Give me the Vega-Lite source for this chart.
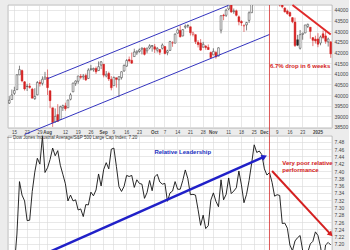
{
"$schema": "https://vega.github.io/schema/vega-lite/v6.json",
"background": "#ececec",
"padding": {"left": 6, "top": 0, "right": 0, "bottom": 0},
"spacing": 8,
"bounds": "flush",
"config": {
  "view": {"stroke": "#9a9a9a", "strokeWidth": 0.6, "fill": "white"},
  "font": "Liberation Sans",
  "axis": {"labelFont": "Liberation Sans", "labelFontSize": 4.5, "labelColor": "#444", "gridColor": "#d8d8d8", "gridWidth": 0.6, "domain": false, "ticks": false, "labelPadding": 2, "title": null, "labelOverlap": false},
  "axisY": {"labelOverlap": false, "labelFontSize": 5, "labelBaseline": "middle"}
},
"datasets": {
"px": [
{"d":"2024-07-11","o":39620,"h":39950,"l":39580,"c":39753,"r":7.118},
{"d":"2024-07-12","o":39790,"h":40260,"l":39780,"c":40001,"r":7.124},
{"d":"2024-07-15","o":40080,"h":40390,"l":40000,"c":40212,"r":7.141},
{"d":"2024-07-16","o":40250,"h":40970,"l":40240,"c":40954,"r":7.227},
{"d":"2024-07-17","o":40950,"h":41380,"l":40940,"c":41198,"r":7.371},
{"d":"2024-07-18","o":41150,"h":41200,"l":40600,"c":40665,"r":7.334},
{"d":"2024-07-19","o":40620,"h":40660,"l":40210,"c":40288,"r":7.318},
{"d":"2024-07-22","o":40400,"h":40530,"l":40190,"c":40415,"r":7.264},
{"d":"2024-07-23","o":40420,"h":40560,"l":40300,"c":40358,"r":7.265},
{"d":"2024-07-24","o":40280,"h":40340,"l":39840,"c":39854,"r":7.344},
{"d":"2024-07-25","o":39830,"h":40320,"l":39770,"c":39935,"r":7.397},
{"d":"2024-07-26","o":40010,"h":40660,"l":39990,"c":40589,"r":7.435},
{"d":"2024-07-29","o":40590,"h":40700,"l":40400,"c":40540,"r":7.419},
{"d":"2024-07-30","o":40550,"h":40880,"l":40450,"c":40743,"r":7.495},
{"d":"2024-07-31","o":40750,"h":41090,"l":40730,"c":40843,"r":7.396},
{"d":"2024-08-01","o":40830,"h":41200,"l":40000,"c":40348,"r":7.409},
{"d":"2024-08-02","o":40200,"h":40210,"l":39380,"c":39737,"r":7.432},
{"d":"2024-08-05","o":39400,"h":39400,"l":38500,"c":38703,"r":7.463},
{"d":"2024-08-06","o":38740,"h":39370,"l":38700,"c":38998,"r":7.442},
{"d":"2024-08-07","o":39080,"h":39570,"l":38740,"c":38763,"r":7.456},
{"d":"2024-08-08","o":38850,"h":39500,"l":38840,"c":39446,"r":7.416},
{"d":"2024-08-09","o":39400,"h":39550,"l":39250,"c":39498,"r":7.391},
{"d":"2024-08-12","o":39490,"h":39640,"l":39260,"c":39357,"r":7.365},
{"d":"2024-08-13","o":39400,"h":39780,"l":39400,"c":39766,"r":7.318},
{"d":"2024-08-14","o":39800,"h":40100,"l":39750,"c":40009,"r":7.334},
{"d":"2024-08-15","o":40150,"h":40580,"l":40140,"c":40563,"r":7.318},
{"d":"2024-08-16","o":40550,"h":40690,"l":40430,"c":40660,"r":7.321},
{"d":"2024-08-19","o":40650,"h":40900,"l":40530,"c":40897,"r":7.293},
{"d":"2024-08-20","o":40880,"h":40990,"l":40740,"c":40835,"r":7.296},
{"d":"2024-08-21","o":40850,"h":40990,"l":40720,"c":40890,"r":7.275},
{"d":"2024-08-22","o":40920,"h":41010,"l":40660,"c":40713,"r":7.308},
{"d":"2024-08-23","o":40780,"h":41260,"l":40770,"c":41175,"r":7.307},
{"d":"2024-08-26","o":41200,"h":41420,"l":41140,"c":41240,"r":7.342},
{"d":"2024-08-27","o":41190,"h":41290,"l":41100,"c":41250,"r":7.332},
{"d":"2024-08-28","o":41250,"h":41340,"l":40990,"c":41091,"r":7.348},
{"d":"2024-08-29","o":41150,"h":41580,"l":41130,"c":41335,"r":7.392},
{"d":"2024-08-30","o":41410,"h":41590,"l":41220,"c":41563,"r":7.359},
{"d":"2024-09-03","o":41450,"h":41450,"l":40830,"c":40937,"r":7.404},
{"d":"2024-09-04","o":40900,"h":41130,"l":40830,"c":40975,"r":7.423},
{"d":"2024-09-05","o":41020,"h":41100,"l":40660,"c":40756,"r":7.406},
{"d":"2024-09-06","o":40740,"h":40890,"l":40220,"c":40345,"r":7.460},
{"d":"2024-09-09","o":40440,"h":40870,"l":40430,"c":40830,"r":7.463},
{"d":"2024-09-10","o":40810,"h":40820,"l":40350,"c":40737,"r":7.412},
{"d":"2024-09-11","o":40720,"h":40890,"l":39900,"c":40861,"r":7.357},
{"d":"2024-09-12","o":40820,"h":41110,"l":40730,"c":41097,"r":7.344},
{"d":"2024-09-13","o":41130,"h":41440,"l":41100,"c":41394,"r":7.358},
{"d":"2024-09-16","o":41360,"h":41690,"l":41330,"c":41622,"r":7.388},
{"d":"2024-09-17","o":41670,"h":41810,"l":41530,"c":41606,"r":7.385},
{"d":"2024-09-18","o":41630,"h":42000,"l":41460,"c":41503,"r":7.388},
{"d":"2024-09-19","o":41810,"h":42180,"l":41800,"c":42025,"r":7.355},
{"d":"2024-09-20","o":41990,"h":42100,"l":41880,"c":42063,"r":7.376},
{"d":"2024-09-23","o":42050,"h":42190,"l":41990,"c":42125,"r":7.366},
{"d":"2024-09-24","o":42160,"h":42240,"l":41910,"c":42208,"r":7.364},
{"d":"2024-09-25","o":42200,"h":42240,"l":41860,"c":41915,"r":7.325},
{"d":"2024-09-26","o":42080,"h":42250,"l":41960,"c":42175,"r":7.341},
{"d":"2024-09-27","o":42210,"h":42390,"l":42150,"c":42313,"r":7.374},
{"d":"2024-09-30","o":42290,"h":42350,"l":42040,"c":42330,"r":7.346},
{"d":"2024-10-01","o":42270,"h":42400,"l":41980,"c":42156,"r":7.384},
{"d":"2024-10-02","o":42110,"h":42260,"l":42000,"c":42196,"r":7.391},
{"d":"2024-10-03","o":42140,"h":42160,"l":41880,"c":42011,"r":7.370},
{"d":"2024-10-04","o":42200,"h":42430,"l":42140,"c":42353,"r":7.364},
{"d":"2024-10-07","o":42280,"h":42310,"l":41910,"c":41954,"r":7.366},
{"d":"2024-10-08","o":42000,"h":42130,"l":41870,"c":42080,"r":7.317},
{"d":"2024-10-09","o":42100,"h":42550,"l":42080,"c":42512,"r":7.340},
{"d":"2024-10-10","o":42450,"h":42530,"l":42270,"c":42454,"r":7.345},
{"d":"2024-10-11","o":42440,"h":42900,"l":42430,"c":42864,"r":7.371},
{"d":"2024-10-14","o":42910,"h":43140,"l":42890,"c":43065,"r":7.350},
{"d":"2024-10-15","o":43040,"h":43280,"l":42710,"c":42740,"r":7.350},
{"d":"2024-10-16","o":42780,"h":43100,"l":42760,"c":43077,"r":7.374},
{"d":"2024-10-17","o":43190,"h":43320,"l":43110,"c":43239,"r":7.403},
{"d":"2024-10-18","o":43250,"h":43330,"l":43150,"c":43276,"r":7.379},
{"d":"2024-10-21","o":43210,"h":43220,"l":42800,"c":42931,"r":7.335},
{"d":"2024-10-22","o":42850,"h":42980,"l":42760,"c":42925,"r":7.336},
{"d":"2024-10-23","o":42840,"h":42850,"l":42400,"c":42514,"r":7.334},
{"d":"2024-10-24","o":42480,"h":42580,"l":42240,"c":42374,"r":7.294},
{"d":"2024-10-25","o":42450,"h":42630,"l":42080,"c":42114,"r":7.251},
{"d":"2024-10-28","o":42250,"h":42500,"l":42240,"c":42387,"r":7.279},
{"d":"2024-10-29","o":42300,"h":42350,"l":42130,"c":42234,"r":7.242},
{"d":"2024-10-30","o":42240,"h":42380,"l":42120,"c":42142,"r":7.250},
{"d":"2024-10-31","o":42000,"h":42050,"l":41750,"c":41763,"r":7.320},
{"d":"2024-11-01","o":41890,"h":42200,"l":41880,"c":42052,"r":7.340},
{"d":"2024-11-04","o":42000,"h":42080,"l":41710,"c":41794,"r":7.317},
{"d":"2024-11-05","o":41830,"h":42240,"l":41820,"c":42222,"r":7.302},
{"d":"2024-11-06","o":43050,"h":43760,"l":42900,"c":43730,"r":7.376},
{"d":"2024-11-07","o":43760,"h":43820,"l":43520,"c":43729,"r":7.321},
{"d":"2024-11-08","o":43750,"h":44060,"l":43670,"c":43989,"r":7.336},
{"d":"2024-11-11","o":44050,"h":44390,"l":43990,"c":44293,"r":7.381},
{"d":"2024-11-12","o":44330,"h":44360,"l":43860,"c":43911,"r":7.338},
{"d":"2024-11-13","o":43920,"h":44070,"l":43820,"c":43958,"r":7.345},
{"d":"2024-11-14","o":43960,"h":44020,"l":43700,"c":43751,"r":7.354},
{"d":"2024-11-15","o":43680,"h":43740,"l":43280,"c":43445,"r":7.400},
{"d":"2024-11-18","o":43460,"h":43520,"l":43250,"c":43390,"r":7.362},
{"d":"2024-11-19","o":43250,"h":43330,"l":42970,"c":43269,"r":7.313},
{"d":"2024-11-20","o":43300,"h":43440,"l":43040,"c":43408,"r":7.336},
{"d":"2024-11-21","o":43510,"h":43940,"l":43390,"c":43870,"r":7.374},
{"d":"2024-11-22","o":43870,"h":44360,"l":43860,"c":44297,"r":7.421},
{"d":"2024-11-25","o":44390,"h":44850,"l":44380,"c":44737,"r":7.472},
{"d":"2024-11-26","o":44710,"h":44870,"l":44610,"c":44860,"r":7.451},
{"d":"2024-11-27","o":44840,"h":44930,"l":44690,"c":44722,"r":7.455},
{"d":"2024-11-29","o":44780,"h":45030,"l":44760,"c":44911,"r":7.445},
{"d":"2024-12-02","o":44870,"h":44920,"l":44640,"c":44782,"r":7.406},
{"d":"2024-12-03","o":44690,"h":44770,"l":44600,"c":44705,"r":7.389},
{"d":"2024-12-04","o":44790,"h":45070,"l":44720,"c":45014,"r":7.396},
{"d":"2024-12-05","o":45040,"h":45050,"l":44720,"c":44766,"r":7.369},
{"d":"2024-12-06","o":44830,"h":44900,"l":44590,"c":44643,"r":7.331},
{"d":"2024-12-09","o":44600,"h":44660,"l":44330,"c":44402,"r":7.335},
{"d":"2024-12-10","o":44410,"h":44450,"l":44160,"c":44248,"r":7.333},
{"d":"2024-12-11","o":44320,"h":44360,"l":44080,"c":44149,"r":7.256},
{"d":"2024-12-12","o":44090,"h":44130,"l":43880,"c":43915,"r":7.257},
{"d":"2024-12-13","o":43950,"h":44020,"l":43780,"c":43828,"r":7.243},
{"d":"2024-12-16","o":43880,"h":43930,"l":43670,"c":43717,"r":7.197},
{"d":"2024-12-17","o":43640,"h":43660,"l":43380,"c":43450,"r":7.181},
{"d":"2024-12-18","o":43430,"h":43640,"l":42260,"c":42327,"r":7.208},
{"d":"2024-12-19","o":42600,"h":42830,"l":42300,"c":42343,"r":7.217},
{"d":"2024-12-20","o":42200,"h":43060,"l":42140,"c":42840,"r":7.223},
{"d":"2024-12-23","o":42850,"h":42930,"l":42600,"c":42907,"r":7.182},
{"d":"2024-12-24","o":42920,"h":43300,"l":42910,"c":43297,"r":7.168},
{"d":"2024-12-26","o":43230,"h":43360,"l":43150,"c":43326,"r":7.177},
{"d":"2024-12-27","o":43190,"h":43200,"l":42650,"c":42992,"r":7.200},
{"d":"2024-12-30","o":42700,"h":42720,"l":42300,"c":42574,"r":7.207},
{"d":"2024-12-31","o":42630,"h":42790,"l":42420,"c":42544,"r":7.233},
{"d":"2025-01-02","o":42640,"h":42910,"l":42250,"c":42392,"r":7.223},
{"d":"2025-01-03","o":42450,"h":42800,"l":42340,"c":42732,"r":7.192},
{"d":"2025-01-06","o":42880,"h":43040,"l":42630,"c":42707,"r":7.148},
{"d":"2025-01-07","o":42780,"h":43000,"l":42410,"c":42528,"r":7.197},
{"d":"2025-01-08","o":42500,"h":42700,"l":42280,"c":42635,"r":7.204},
{"d":"2025-01-10","o":42500,"h":42530,"l":41750,"c":41938,"r":7.197}
]
},
"vconcat": [
{
  "width": 324, "height": 123,
  "encoding": {
    "x": {"field": "d", "type": "ordinal", "sort": "ascending",
      "scale": {"type": "band", "paddingInner": 0.3, "paddingOuter": 0.15},
      "axis": {"orient": "bottom", "grid": true, "labelAngle": 0, "labelPadding": 1, "labelOverlap": false,
        "values": ["2024-07-15","2024-07-22","2024-07-29","2024-08-01","2024-08-12","2024-08-19","2024-08-26","2024-09-03","2024-09-09","2024-09-16","2024-09-23","2024-10-01","2024-10-07","2024-10-14","2024-10-21","2024-10-28","2024-11-01","2024-11-11","2024-11-18","2024-11-25","2024-12-02","2024-12-09","2024-12-16","2024-12-23","2025-01-02"],
        "labelExpr": "datum.value == '2025-01-02' ? '2025' : (indexof(['2024-08-01','2024-09-03','2024-10-01','2024-11-01','2024-12-02'], datum.value) >= 0 ? utcFormat(toDate(datum.value), '%b') : '' + toNumber(slice(datum.value, 8)))",
        "labelFontWeight": {"condition": {"test": "indexof(['2024-08-01','2024-09-03','2024-10-01','2024-11-01','2024-12-02','2025-01-02'], datum.value) >= 0", "value": "bold"}, "value": "normal"}
      }
    },
    "y": {"field": "v", "type": "quantitative", "scale": {"domain": [38450, 44235], "nice": false, "zero": false},
      "axis": {"orient": "right", "grid": true, "labelOverlap": false, "labelBound": false, "labelFlush": false, "values": [38500,39000,39500,40000,40500,41000,41500,42000,42500,43000,43500,44000], "format": "d"}}
  },
  "layer": [
    {
      "data": {"name": "px"},
      "transform": [{"window": [{"op": "lag", "field": "c", "as": "pc"}], "sort": [{"field": "d"}]}],
      "layer": [
        {"mark": {"type": "rule", "clip": true, "strokeWidth": 0.6},
         "encoding": {
           "y": {"field": "l", "type": "quantitative", "scale": {"domain": [38450, 44235], "nice": false, "zero": false},
             "axis": {"orient": "right", "grid": true, "labelOverlap": false, "labelBound": false, "labelFlush": false, "values": [38500,39000,39500,40000,40500,41000,41500,42000,42500,43000,43500,44000], "format": "d"}},
           "y2": {"field": "h"},
           "stroke": {"condition": {"test": "datum.c < datum.pc", "value": "#d42222"}, "value": "#333333"}
         }},
        {"mark": {"type": "bar", "clip": true, "strokeWidth": 0.5},
         "encoding": {
           "y": {"field": "o", "type": "quantitative", "scale": {"domain": [38450, 44235], "nice": false, "zero": false},
             "axis": {"orient": "right", "grid": true, "labelOverlap": false, "labelBound": false, "labelFlush": false, "values": [38500,39000,39500,40000,40500,41000,41500,42000,42500,43000,43500,44000], "format": "d"}},
           "y2": {"field": "c"},
           "fill": {"condition": [{"test": "datum.c < datum.o && datum.c < datum.pc", "value": "#d42222"}, {"test": "datum.c < datum.o", "value": "#222222"}], "value": "#ffffff"},
           "stroke": {"condition": {"test": "datum.c < datum.pc", "value": "#d42222"}, "value": "#333333"}
         }}
      ]
    },
    {
      "data": {"values": [{"d": "2024-08-01", "v": 40769}, {"d": "2024-11-11", "v": 44223}]},
      "mark": {"type": "line", "color": "#3535c0", "strokeWidth": 1}
    },
    {
      "data": {"values": [{"d": "2024-07-19", "v": 38145}, {"d": "2024-12-04", "v": 42848}]},
      "mark": {"type": "line", "color": "#3535c0", "strokeWidth": 1, "clip": false}
    },
    {
      "data": {"values": [{"d": "2024-12-17", "v": 44235}, {"d": "2025-01-10", "v": 42850}]},
      "mark": {"type": "line", "color": "#e02a2a", "strokeWidth": 2}
    },
    {
      "data": {"values": [{"d": "2024-12-04", "v": 44235, "v2": 38050}]},
      "mark": {"type": "rule", "color": "#d43030", "strokeWidth": 0.8, "clip": false},
      "encoding": {"y2": {"field": "v2"}}
    },
    {
      "data": {"values": [{"d": "2024-12-20", "v": 41366, "t": "6.7% drop in 6 weeks"}]},
      "mark": {"type": "text", "color": "#d42222", "fontSize": 6, "fontWeight": "bold", "align": "center", "baseline": "middle"},
      "encoding": {"text": {"field": "t"}}
    }
  ]
},
{
  "width": 324, "height": 119,
  "encoding": {
    "x": {"field": "d", "type": "ordinal", "sort": "ascending",
      "scale": {"type": "band", "paddingInner": 0.3, "paddingOuter": 0.15},
      "axis": {"orient": "bottom", "grid": true, "labels": false,
        "values": ["2024-07-15","2024-07-22","2024-07-29","2024-08-01","2024-08-12","2024-08-19","2024-08-26","2024-09-03","2024-09-09","2024-09-16","2024-09-23","2024-10-01","2024-10-07","2024-10-14","2024-10-21","2024-10-28","2024-11-01","2024-11-11","2024-11-18","2024-11-25","2024-12-02","2024-12-09","2024-12-16","2024-12-23","2025-01-02"]}
    },
    "y": {"field": "v", "type": "quantitative", "scale": {"domain": [7.1695, 7.4962], "nice": false, "zero": false},
      "axis": {"orient": "right", "grid": true, "labelOverlap": false, "labelBound": false, "labelFlush": false, "values": [7.18,7.2,7.22,7.24,7.26,7.28,7.3,7.32,7.34,7.36,7.38,7.4,7.42,7.44,7.46,7.48], "format": ".2f"}}
  },
  "layer": [
    {
      "data": {"name": "px"},
      "mark": {"type": "line", "color": "#111111", "strokeWidth": 0.9, "clip": true},
      "encoding": {"y": {"field": "r", "type": "quantitative", "scale": {"domain": [7.1695, 7.4962], "nice": false, "zero": false},
        "axis": {"orient": "right", "grid": true, "labelOverlap": false, "labelBound": false, "labelFlush": false, "values": [7.18,7.2,7.22,7.24,7.26,7.28,7.3,7.32,7.34,7.36,7.38,7.4,7.42,7.44,7.46,7.48], "format": ".2f"}}}
    },
    {
      "data": {"values": [{"d": "2024-12-04", "v": 7.4962, "v2": 7.1695}]},
      "mark": {"type": "rule", "color": "#d43030", "strokeWidth": 0.8},
      "encoding": {"y2": {"field": "v2"}}
    },
    {
      "data": {"values": [{"d": "2024-07-31", "v": 7.1725}, {"d": "2024-12-02", "v": 7.4395}]},
      "mark": {"type": "line", "color": "#2020c8", "strokeWidth": 2.5}
    },
    {
      "data": {"values": [{"d": "2024-12-02", "v": 7.4395}]},
      "mark": {"type": "point", "shape": "triangle-up", "angle": 66, "size": 40, "filled": true, "color": "#2020c8", "opacity": 1}
    },
    {
      "data": {"values": [{"d": "2024-12-05", "v": 7.4}, {"d": "2025-01-10", "v": 7.226}]},
      "mark": {"type": "line", "color": "#d42020", "strokeWidth": 2}
    },
    {
      "data": {"values": [{"d": "2025-01-10", "v": 7.226}]},
      "mark": {"type": "point", "shape": "triangle-up", "angle": 138, "size": 36, "filled": true, "color": "#d42020", "opacity": 1}
    },
    {
      "data": {"values": [{"d": "2024-10-16", "v": 7.453, "t": "Relative Leadership"}]},
      "mark": {"type": "text", "color": "#2030c0", "fontSize": 6, "fontWeight": "bold", "align": "center", "baseline": "middle"},
      "encoding": {"text": {"field": "t"}}
    },
    {
      "data": {"values": [{"d": "2024-12-11", "v": 7.423, "t": "Very poor relative"}, {"d": "2024-12-11", "v": 7.404, "t": "performance"}]},
      "mark": {"type": "text", "color": "#d42020", "fontSize": 6, "fontWeight": "bold", "align": "left", "baseline": "middle"},
      "encoding": {"text": {"field": "t"}}
    },
    {
      "data": {"values": [{"d": "2024-07-11", "v": 7.4895, "t": "— Dow Jones Industrial Average/S&P 500 Large Cap Index: 7.20"}]},
      "mark": {"type": "text", "color": "#333333", "fontSize": 4.5, "align": "left", "baseline": "middle", "dx": -2},
      "encoding": {"text": {"field": "t"}}
    }
  ]
}
]
}
